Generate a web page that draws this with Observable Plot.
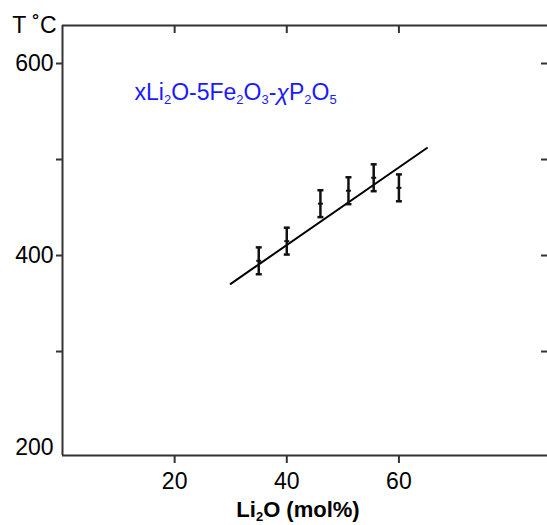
<!DOCTYPE html>
<html><head><meta charset="utf-8">
<script src="https://cdn.jsdelivr.net/npm/d3@7"></script>
<script src="https://cdn.jsdelivr.net/npm/@observablehq/plot@0.6"></script>
<style>body{margin:0;background:#fff}</style>
</head><body><div id="chart"></div>
<script>
// Data
const li2o = [35, 40, 46, 51, 55.5, 60];
const temp = [394.5, 415, 454, 467.5, 481, 470.5];
const err = [14, 14, 14, 14, 14, 14];
const fitX = [30, 65];
const fitY = [370.5, 512];
const xTicks = [20, 40, 60];
const yTickMarks = [300, 400, 500, 600];
const yTickLabels = [200, 400, 600];
const title = "xLi₂O-5Fe₂O₃-χP₂O₅";
const xLabel = "Li₂O (mol%)";
const yLabel = "T ˚C";

const points = li2o.map((x, i) => ({x, y: temp[i], lo: temp[i] - err[i], hi: temp[i] + err[i]}));
const fit = fitX.map((x, i) => ({x, y: fitY[i]}));
const X0 = 0, X1 = 86.5, Y0 = 191.7, Y1 = 639.6;
const cap = {draw(ctx, size) { const w = Math.sqrt(size / Math.PI); ctx.moveTo(-w, 0); ctx.lineTo(w, 0); }};
const axisColor = "#333";
const font = "'Liberation Sans', Arial, sans-serif";

const plot = Plot.plot({
  width: 547, height: 525,
  marginLeft: 62, marginRight: 0, marginTop: 25, marginBottom: 70,
  style: {fontFamily: font, fontSize: "23px", color: "#000", background: "#fff"},
  x: {domain: [X0, X1]},
  y: {domain: [Y0, Y1]},
  marks: [
    Plot.axisX({anchor: "bottom", ticks: xTicks, tickSize: 8, tickPadding: 9, label: null, stroke: axisColor, strokeWidth: 2, fill: "#000", fontSize: 23}),
    Plot.axisX({anchor: "bottom", ticks: xTicks, tickSize: 8, dy: -430, fill: "none", label: null, stroke: axisColor, strokeWidth: 2}),
    Plot.axisY({anchor: "left", ticks: yTickMarks, tickSize: 6, fill: "none", label: null, stroke: axisColor, strokeWidth: 2}),
    Plot.axisY({anchor: "left", ticks: yTickLabels, tickSize: 0, tickPadding: 9, label: null, fill: "#000", fontSize: 23}),
    Plot.axisY({anchor: "left", ticks: yTickMarks, tickSize: 6, dx: 485, fill: "none", label: null, stroke: axisColor, strokeWidth: 2}),
    Plot.ruleX([X0], {stroke: axisColor, strokeWidth: 2}),
    Plot.ruleY([Y0], {stroke: axisColor, strokeWidth: 2}),
    Plot.ruleY([Y1], {stroke: axisColor, strokeWidth: 2}),
    Plot.line(fit, {x: "x", y: "y", stroke: "#000", strokeWidth: 2}),
    Plot.ruleX(points, {x: "x", y1: "lo", y2: "hi", stroke: "#111", strokeWidth: 2.5}),
    Plot.dot(points, {x: "x", y: "lo", symbol: cap, r: 3, stroke: "#111", strokeWidth: 2.5}),
    Plot.dot(points, {x: "x", y: "hi", symbol: cap, r: 3, stroke: "#111", strokeWidth: 2.5}),
    Plot.dot(points, {x: "x", y: "y", symbol: cap, r: 2.5, stroke: "#111", strokeWidth: 2}),
    Plot.text([yLabel], {frameAnchor: "top-left", dx: -6, textAnchor: "end", lineAnchor: "middle", fontSize: 23, fill: "#000"}),
    Plot.text([title], {frameAnchor: "top-left", dx: 72, dy: 67, textAnchor: "start", lineAnchor: "middle", fontSize: 23, fill: "#1a1aff"}),
    Plot.text([xLabel], {frameAnchor: "bottom", dy: 54, dx: -7, lineAnchor: "middle", fontWeight: "bold", fontSize: 22, fill: "#000"})
  ]
});

// Render unicode subscripts as real subscript tspans and χ in italics
const SUBS = "₀₁₂₃₄₅₆₇₈₉";
plot.querySelectorAll("text").forEach(t => {
  const s = t.textContent;
  if (!/[₀-₉χ]/.test(s)) return;
  const fs = parseFloat(t.getAttribute("font-size") || getComputedStyle(t).fontSize) || 18;
  const isBold = (t.getAttribute("font-weight") || "") === "bold";
  const runs = [];
  for (const ch of s) {
    const k = SUBS.indexOf(ch);
    const type = k >= 0 ? "sub" : ch === "χ" ? "ital" : "norm";
    const c = k >= 0 ? String(k) : ch;
    if (runs.length && runs[runs.length - 1].type === type) runs[runs.length - 1].t += c;
    else runs.push({type, t: c});
  }
  t.textContent = "";
  const shift = Math.round(fs * (isBold ? 0.1 : 0.2));
  let down = false;
  for (const r of runs) {
    const ts = document.createElementNS("http://www.w3.org/2000/svg", "tspan");
    ts.textContent = r.t;
    if (r.type === "sub") {
      ts.setAttribute("font-size", (fs * 0.72).toFixed(1));
      if (!down) { ts.setAttribute("dy", shift); down = true; }
    } else {
      if (down) { ts.setAttribute("dy", -shift); down = false; }
      if (r.type === "ital") ts.setAttribute("font-style", "italic");
    }
    t.appendChild(ts);
  }
});

document.getElementById("chart").appendChild(plot);
</script>
</body></html>
